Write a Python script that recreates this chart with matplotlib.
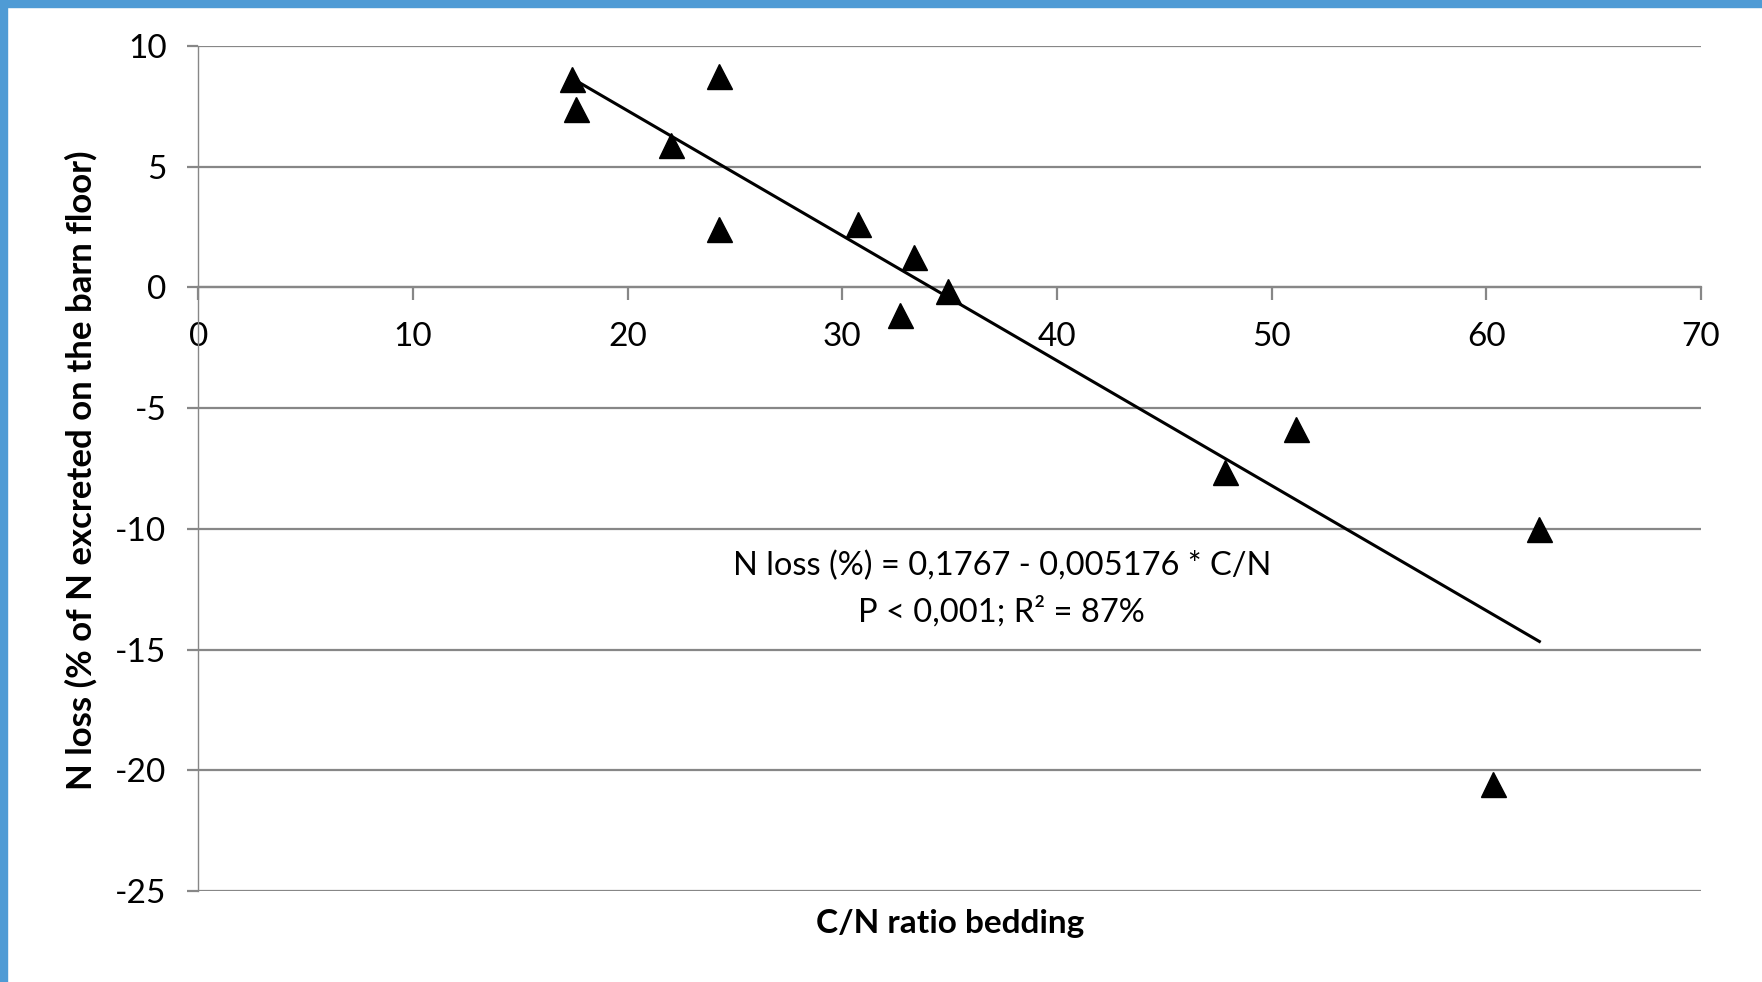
import matplotlib
matplotlib.use('Agg')
import matplotlib.pyplot as plt
from matplotlib.patches import Rectangle

# C/N ratio of the bedding and N loss (% of N excreted on the barn floor)
cn_ratio = [17.41, 17.57, 22.01, 24.26, 24.26, 30.71, 33.34, 32.68, 34.93,
            47.83, 51.12, 62.47, 60.31]
n_loss = [8.64, 7.37, 5.88, 8.76, 2.42, 2.63, 1.25, -1.16, -0.13,
          -7.64, -5.87, -10.02, -20.57]

# regression from the figure: N loss (%) = 17.67 - 0.5176 * C/N
intercept = 17.67
slope = -0.5176

x_ticks = [0, 10, 20, 30, 40, 50, 60, 70]
y_ticks = [10, 5, 0, -5, -10, -15, -20, -25]

plt.rcParams['font.family'] = ['Lato', 'DejaVu Sans']
plt.rcParams['axes.unicode_minus'] = False
grid_col = '#878787'

fig = plt.figure(figsize=(17.62, 9.82), dpi=100)
ax = fig.add_axes([198.4 / 1762, 1 - 891 / 982, (1701 - 198.4) / 1762, (891 - 46) / 982])

# blue frame along top and left edge
fig.patches.append(Rectangle((0, 1 - 7 / 982), 1, 7 / 982, transform=fig.transFigure,
                             color='#4F9BD5', zorder=0))
fig.patches.append(Rectangle((0, 0), 7 / 1762, 1, transform=fig.transFigure,
                             color='#4F9BD5', zorder=0))

ax.set_xlim(0, 70)
ax.set_ylim(-25, 10)
ax.set_yticks(y_ticks)
ax.set_xticks(x_ticks)
ax.yaxis.grid(True, color=grid_col, linewidth=1.6)
ax.set_axisbelow(True)

for side in ['top', 'right']:
    ax.spines[side].set_visible(False)
ax.spines['bottom'].set_position(('data', 0))
ax.spines['bottom'].set_color(grid_col)
ax.spines['bottom'].set_linewidth(1.6)
ax.spines['left'].set_color(grid_col)
ax.spines['left'].set_linewidth(1.0)

ax.tick_params(axis='x', direction='out', length=9, width=1.6, color=grid_col,
               labelsize=24, pad=16)
ax.tick_params(axis='y', direction='out', length=8, width=1.6, color=grid_col,
               labelsize=24, pad=15)

x0, x1 = min(cn_ratio), max(cn_ratio)
ax.plot([x0, x1], [intercept + slope * x0, intercept + slope * x1],
        color='black', linewidth=2.2, zorder=3)
ax.plot(cn_ratio, n_loss, linestyle='none', marker='^', markersize=18,
        color='black', zorder=4, clip_on=False)

ax.text(37.43, -11.55, 'N loss (%) = 0,1767 - 0,005176 * C/N',
        ha='center', va='center', fontsize=23.5)
ax.text(37.43, -13.42, 'P < 0,001; R² = 87%',
        ha='center', va='center', fontsize=23.5)

fig.text(0.5 * (198.4 + 1701) / 1762, 1 - 924 / 982, 'C/N ratio bedding',
         ha='center', va='center', fontsize=24, fontweight='bold')
fig.text(81 / 1762, 1 - 470 / 982, 'N loss (% of N excreted on the barn floor)',
         ha='center', va='center', rotation=90, fontsize=25, fontweight='bold')

fig.savefig('out.png', dpi=100)
